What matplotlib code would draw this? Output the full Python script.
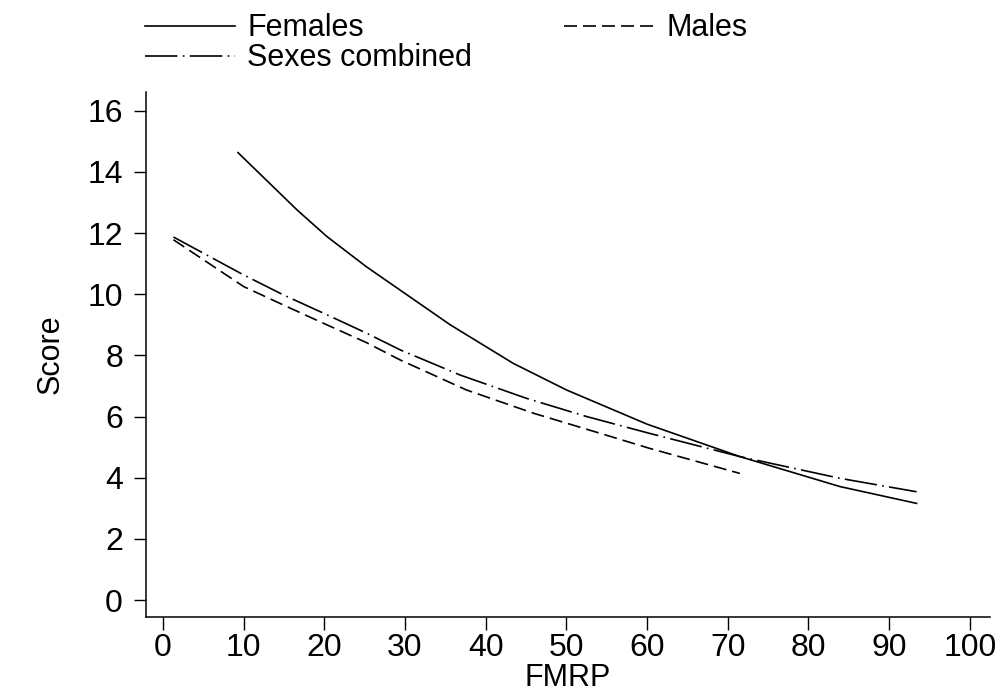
import matplotlib
matplotlib.use("Agg")
import matplotlib.pyplot as plt

plt.rcParams.update({
    "font.family": ["Liberation Sans", "DejaVu Sans"],
    "font.size": 22,
})

# Fitted curves (FMRP vs score)
fem_x = [9.3, 16.6, 20.3, 25.2, 30.4, 35.6, 43.4, 50.0, 60.0, 71.5, 83.9, 93.4]
fem_y = [14.63, 12.76, 11.89, 10.9, 9.95, 9.0, 7.74, 6.87, 5.75, 4.69, 3.71, 3.16]

male_x = [1.3, 10.0, 14.9, 20.3, 25.2, 29.4, 37.6, 45.9, 54.2, 60.3, 71.5]
male_y = [11.78, 10.25, 9.65, 9.0, 8.42, 7.85, 6.87, 6.11, 5.45, 4.96, 4.14]

comb_x = [1.3, 10.0, 14.9, 20.3, 25.2, 29.4, 36.8, 45.0, 52.5, 60.3, 71.5, 83.9, 93.4]
comb_y = [11.87, 10.63, 9.98, 9.33, 8.73, 8.18, 7.36, 6.6, 6.0, 5.45, 4.69, 3.98, 3.54]

x_ticks = list(range(0, 101, 10))
y_ticks = list(range(0, 17, 2))

fig = plt.figure(figsize=(9.96, 6.95), dpi=100)
ax = fig.add_axes([0.1466, 0.112, 0.8474, 0.756])

lw = 1.2
l1, = ax.plot(fem_x, fem_y, color="black", lw=lw, label="Females")
l2, = ax.plot(male_x, male_y, color="black", lw=lw, dashes=(7.8, 3.6), label="Males")
l3, = ax.plot(comb_x, comb_y, color="black", lw=lw, dashes=(19.5, 3.2, 1.0, 3.2),
              label="Sexes combined")

ax.set_xlim(-2.1, 102.5)
ax.set_ylim(-0.56, 16.62)
ax.set_xticks(x_ticks)
ax.set_yticks(y_ticks)
ax.tick_params(direction="out", width=1, colors="black", labelsize=23)
ax.tick_params(axis="x", length=9.4, pad=2)
ax.tick_params(axis="y", length=8.6, pad=8)
for s in ["top", "right"]:
    ax.spines[s].set_visible(False)
for s in ["left", "bottom"]:
    ax.spines[s].set_linewidth(1.1)

ax.set_xlabel("FMRP", fontsize=22, labelpad=0)
ax.set_ylabel("Score", fontsize=22, labelpad=16)

fig.legend(handles=[l1, l3, l2], ncol=2, frameon=False, loc="upper left",
           bbox_to_anchor=(0.1456, 0.981), fontsize=22, handlelength=2.95,
           handletextpad=0.4, columnspacing=3.0, labelspacing=0.0,
           borderpad=0, borderaxespad=0)

fig.savefig("out.png", dpi=100)
